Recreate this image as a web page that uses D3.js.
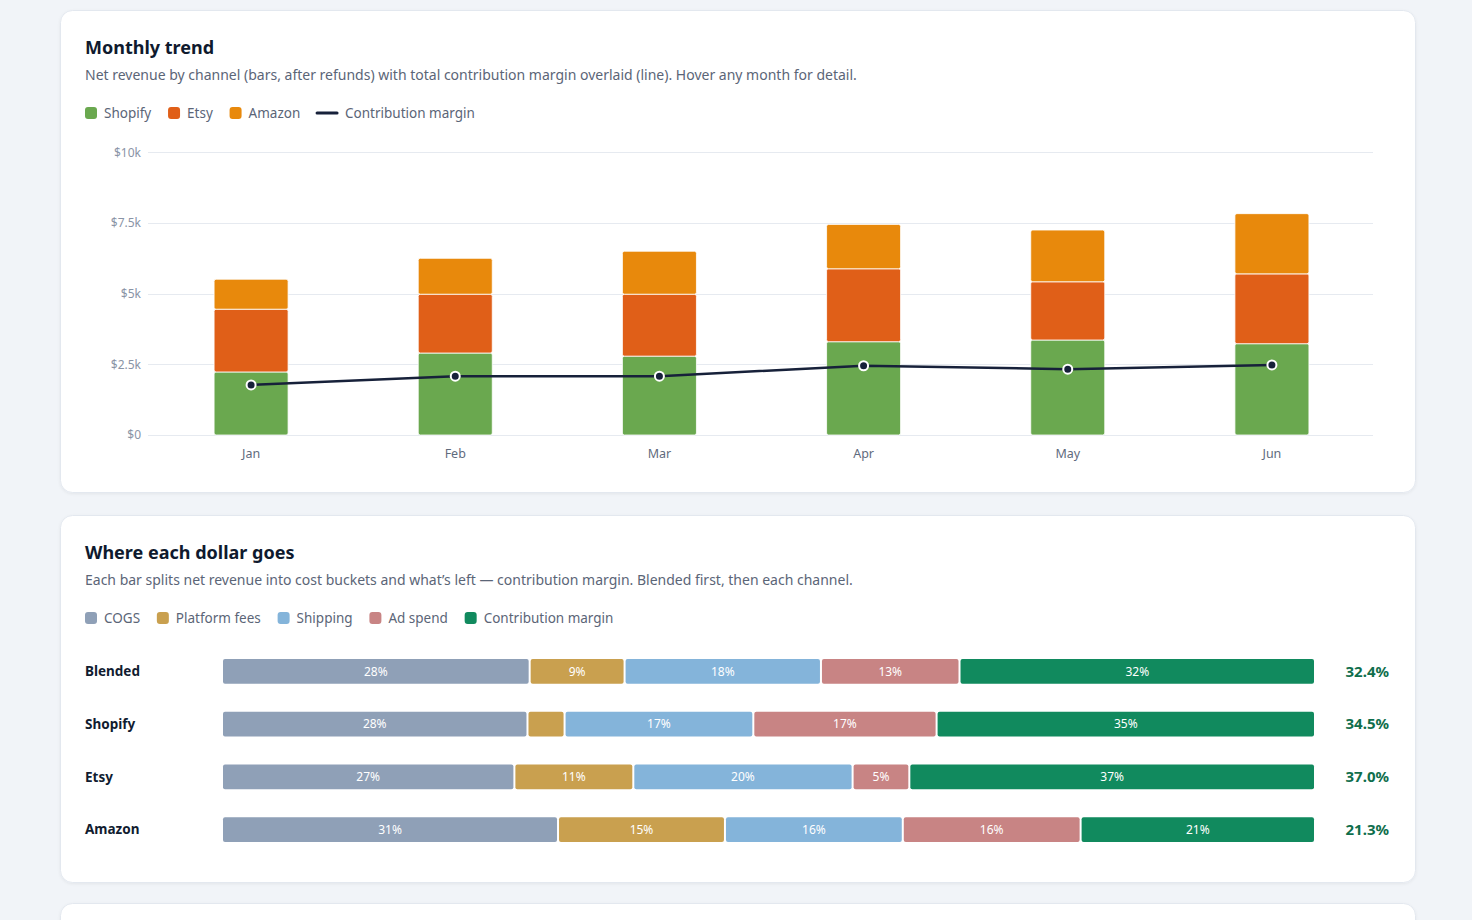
<!DOCTYPE html>
<html>
<head>
<meta charset="utf-8">
<script src="https://cdn.jsdelivr.net/npm/d3@7"></script>
<style>
  html, body { margin: 0; padding: 0; background: #f1f4f8; }
  svg { display: block; font-family: "Noto Sans", "Open Sans", sans-serif; }
</style>
</head>
<body>
<svg id="page" width="1472" height="920"></svg>
<script>
// ---------- Data: Monthly trend ----------
const months = ["Jan", "Feb", "Mar", "Apr", "May", "Jun"];
const shopify = [2230, 2900, 2790, 3300, 3360, 3230];
const etsy    = [2220, 2080, 2190, 2580, 2060, 2470];
const amazon  = [1060, 1270, 1520, 1570, 1830, 2130];
const contributionMargin = [1770, 2080, 2080, 2450, 2330, 2480];
const yTicks = [0, 2500, 5000, 7500, 10000];
const yTickLabels = ["$0", "$2.5k", "$5k", "$7.5k", "$10k"];
const channels = ["Shopify", "Etsy", "Amazon"];

// ---------- Data: Where each dollar goes (% of net revenue) ----------
const rowNames = ["Blended", "Shopify", "Etsy", "Amazon"];
const buckets = ["COGS", "Platform fees", "Shipping", "Ad spend", "Contribution margin"];
const cogs         = [28.2, 28.0, 26.8, 30.8];
const platformFees = [8.7, 3.4, 10.9, 15.3];
const shipping     = [18.0, 17.3, 20.1, 16.3];
const adSpend      = [12.7, 16.8, 5.2, 16.3];
const contribution = [32.4, 34.5, 37.0, 21.3];

const channelColors = ["#6aa84f", "#e05f18", "#e8890c"];
const lineColor = "#17213a";
const bucketColors = ["#8fa0b7", "#c9a04f", "#84b4da", "#c88484", "#118a5e"];

const svg = d3.select("#page");
const defs = svg.append("defs");
const f = defs.append("filter").attr("id", "shadow").attr("x", "-5%").attr("y", "-5%").attr("width", "110%").attr("height", "115%");
f.append("feDropShadow").attr("dx", 0).attr("dy", 1).attr("stdDeviation", 1.5).attr("flood-color", "#0f1a2e").attr("flood-opacity", 0.06);

function card(y, h) {
  svg.append("rect").attr("x", 60.5).attr("y", y + 0.5).attr("width", 1355).attr("height", h)
    .attr("rx", 12).attr("fill", "#fff").attr("stroke", "#e3e8ef").attr("filter", "url(#shadow)");
}
function header(g, title, subtitle) {
  g.append("text").attr("x", 85).attr("y", 44).attr("font-size", 18).attr("font-weight", 700)
    .attr("fill", "#0f1a2e").text(title);
  g.append("text").attr("x", 85).attr("y", 70).attr("font-size", 14).attr("fill", "#5b6577").text(subtitle);
}
function legend(g, items, y) {
  let x = 85;
  items.forEach(it => {
    if (it.type === "line") {
      g.append("line").attr("x1", x).attr("x2", x + 20).attr("y1", y).attr("y2", y)
        .attr("stroke", it.color).attr("stroke-width", 3).attr("stroke-linecap", "round");
      x += 28;
    } else {
      g.append("rect").attr("x", x).attr("y", y - 6).attr("width", 12).attr("height", 12).attr("rx", 3).attr("fill", it.color);
      x += 19;
    }
    const t = g.append("text").attr("x", x).attr("y", y).attr("dy", "0.35em").attr("font-size", 13.5)
      .attr("fill", "#5b6577").text(it.label);
    x += t.node().getComputedTextLength() + 16.8;
  });
}

// ---------- Card 1 ----------
card(10, 482);
const g1 = svg.append("g").attr("transform", "translate(0,10)");
header(g1, "Monthly trend", "Net revenue by channel (bars, after refunds) with total contribution margin overlaid (line). Hover any month for detail.");
legend(g1, [
  { label: channels[0], color: channelColors[0] },
  { label: channels[1], color: channelColors[1] },
  { label: channels[2], color: channelColors[2] },
  { label: "Contribution margin", color: lineColor, type: "line" }
], 103);

const x = d3.scaleBand().domain(months).range([149, 1374]).paddingInner(0.6375).paddingOuter(0.31875);
const y = d3.scaleLinear().domain([0, 10000]).range([435, 152.3]);

const grid = svg.append("g");
grid.selectAll("line").data(yTicks).join("line")
  .attr("x1", 148).attr("x2", 1373)
  .attr("y1", d => Math.round(y(d)) + 0.5).attr("y2", d => Math.round(y(d)) + 0.5)
  .attr("stroke", "#e6eaf0");
grid.selectAll("text").data(yTicks).join("text")
  .attr("x", 141).attr("y", d => y(d)).attr("dy", "0.35em").attr("text-anchor", "end")
  .attr("font-size", 12).attr("fill", "#8a94a6").text((d, i) => yTickLabels[i]);

const stackData = months.map((m, i) => ({ month: m, Shopify: shopify[i], Etsy: etsy[i], Amazon: amazon[i] }));
const series = d3.stack().keys(channels)(stackData);
svg.append("g").selectAll("g").data(series).join("g")
  .attr("fill", (d, i) => channelColors[i])
  .selectAll("rect").data(d => d).join("rect")
  .attr("x", d => x(d.data.month))
  .attr("width", x.bandwidth())
  .attr("y", d => y(d[1]))
  .attr("height", d => y(d[0]) - y(d[1]))
  .attr("rx", 2)
  .attr("stroke", "#fff").attr("stroke-width", 0.8);

const xAxisG = svg.append("g");
xAxisG.selectAll("text").data(months).join("text")
  .attr("x", d => x(d) + x.bandwidth() / 2).attr("y", 458).attr("text-anchor", "middle")
  .attr("font-size", 12.5).attr("fill", "#5f6b7d").text(d => d);

const line = d3.line().x((d, i) => x(months[i]) + x.bandwidth() / 2).y(d => y(d));
svg.append("path").datum(contributionMargin).attr("d", line)
  .attr("fill", "none").attr("stroke", lineColor).attr("stroke-width", 2.5);
svg.append("g").selectAll("circle").data(contributionMargin).join("circle")
  .attr("cx", (d, i) => x(months[i]) + x.bandwidth() / 2).attr("cy", d => y(d)).attr("r", 4.5)
  .attr("fill", lineColor).attr("stroke", "#fff").attr("stroke-width", 2);

// ---------- Card 2 ----------
card(515, 367);
const g2 = svg.append("g").attr("transform", "translate(0,515)");
header(g2, "Where each dollar goes", "Each bar splits net revenue into cost buckets and what\u2019s left \u2014 contribution margin. Blended first, then each channel.");
legend(g2, buckets.map((b, i) => ({ label: b, color: bucketColors[i] })), 103);

const bx = d3.scaleLinear().domain([0, 100]).range([223, 1314]);
const by = d3.scaleBand().domain(rowNames).range([645, 856]).paddingInner(0.528).paddingOuter(0.264);
const bucketValues = [cogs, platformFees, shipping, adSpend, contribution];

rowNames.forEach((name, r) => {
  const row = svg.append("g");
  const yy = by(name);
  const h = by.bandwidth();
  let cum = 0;
  const segs = bucketValues.map((arr, k) => {
    const s = { k, v: arr[r], start: cum };
    cum += arr[r];
    return s;
  });
  row.selectAll("rect").data(segs).join("rect")
    .attr("x", d => bx(d.start))
    .attr("width", d => Math.max(0, bx(d.start + d.v) - bx(d.start) - (d.k < 4 ? 2 : 0)))
    .attr("y", yy).attr("height", h).attr("rx", 2)
    .attr("fill", d => bucketColors[d.k]);
  row.selectAll("text.seg").data(segs.filter(d => bx(d.start + d.v) - bx(d.start) > 42)).join("text")
    .attr("class", "seg")
    .attr("x", d => (bx(d.start) + bx(d.start + d.v) - (d.k < 4 ? 2 : 0)) / 2)
    .attr("y", yy + h / 2).attr("dy", "0.35em").attr("text-anchor", "middle")
    .attr("font-size", 12).attr("fill", "#fff").text(d => Math.round(d.v) + "%");
  row.append("text").attr("x", 85).attr("y", yy + h / 2).attr("dy", "0.35em")
    .attr("font-size", 13.5).attr("font-weight", 700).attr("fill", "#111c30").text(name);
  row.append("text").attr("x", 1389).attr("y", yy + h / 2).attr("dy", "0.35em").attr("text-anchor", "end")
    .attr("font-size", 15).attr("font-weight", 700).attr("fill", "#0f6e4c").text(contribution[r].toFixed(1) + "%");
});

// ---------- Card 3 (partially visible) ----------
card(903, 120);
</script>
</body>
</html>
